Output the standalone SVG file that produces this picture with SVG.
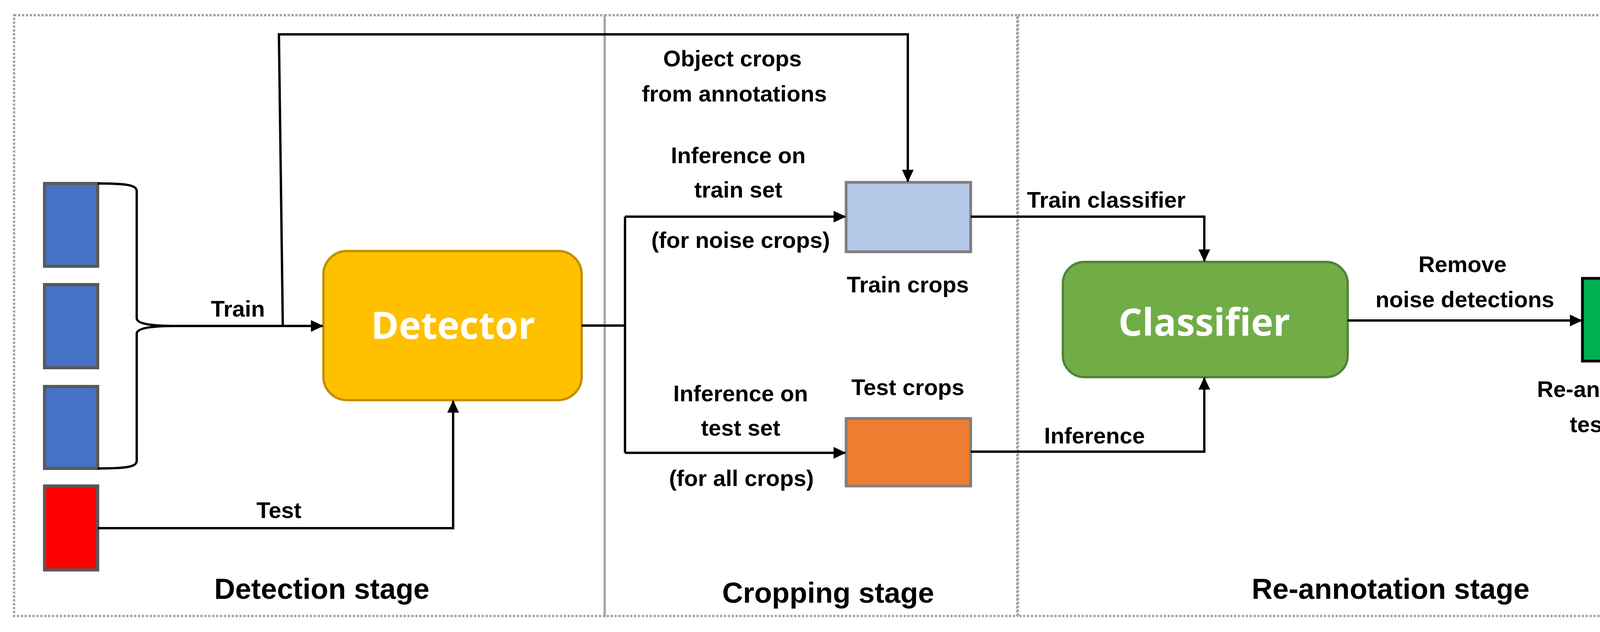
<svg xmlns="http://www.w3.org/2000/svg" width="4412" height="1619" viewBox="0 0 4412 1619">
<style>
.stage{fill:none;stroke:#a6a6a6;stroke-width:6;stroke-dasharray:6 4}
.ln{fill:none;stroke:#000;stroke-width:6}
.t{font-family:"Liberation Sans",Arial,sans-serif;font-weight:bold;font-size:58px;fill:#000;text-anchor:middle}
.st{font-size:74px}
.big{font-family:"Open Sans","Liberation Sans",sans-serif;font-weight:bold;font-size:96px;fill:#fff;text-anchor:middle}
.img{stroke:#595959;stroke-width:8}
.crop{stroke:#7f7f7f;stroke-width:7}
</style>
<defs>
<marker id="ar" markerWidth="10" markerHeight="10" refX="9" refY="5" orient="auto" markerUnits="userSpaceOnUse" viewBox="0 0 10 10" style="overflow:visible">
<path d="M0,0 L10,5 L0,10 Z" fill="#000" transform="scale(3.2) translate(-7,-5) translate(7,5) translate(-7,-5)"/>
</marker>
<marker id="a" markerWidth="32" markerHeight="30" refX="30" refY="15" orient="auto" markerUnits="userSpaceOnUse">
<path d="M0,0 L32,15 L0,30 Z" fill="#000"/>
</marker>
</defs>
<g id="stages">
<rect class="stage" x="36" y="39" width="1512" height="1539"/>
<rect class="stage" x="1548" y="39" width="1056" height="1539"/>
<rect class="stage" x="2606" y="39" width="1780" height="1539"/>
<text class="t st" x="824" y="1534">Detection stage</text>
<text class="t st" x="2120" y="1544">Cropping stage</text>
<text class="t st" x="3560" y="1534">Re-annotation stage</text>
</g>
<g id="train-images">
<rect class="img" x="114" y="470" width="136" height="212" fill="#4472C4"/>
<rect class="img" x="114" y="729" width="136" height="213" fill="#4472C4"/>
<rect class="img" x="114" y="990" width="136" height="210" fill="#4472C4"/>
</g>
<g id="test-image"><rect class="img" x="114" y="1245" width="136" height="215" fill="#FF0000"/></g>
<g id="detector">
<rect x="828" y="643" width="661" height="382" rx="60" fill="#FFC000" stroke="#BF9000" stroke-width="6"/>
<text class="big" x="1160" y="868">Detector</text>
</g>
<g id="train-crops">
<rect class="crop" x="2166" y="467" width="319" height="178" fill="#B4C7E7"/>
<text class="t" x="2324" y="749">Train crops</text>
</g>
<g id="test-crops">
<rect class="crop" x="2166" y="1072" width="319" height="173" fill="#ED7D31"/>
<text class="t" x="2324" y="1012">Test crops</text>
</g>
<g id="classifier">
<rect x="2721" y="671" width="729" height="295" rx="55" fill="#70AD47" stroke="#548235" stroke-width="6"/>
<text class="big" x="3083" y="860">Classifier</text>
</g>
<g id="reannotated">
<rect x="4051" y="713" width="144" height="212" fill="#00B050" stroke="#000" stroke-width="7"/>
<text class="t" x="4120" y="1017">Re-annotated</text>
<text class="t" x="4120" y="1107">test set</text>
</g>
<g id="connectors">
<path class="ln" d="M250,470 C330,470 350,475 350,490 L350,815 C350,830 390,835 449,835 C390,835 350,840 350,855 L350,1180 C350,1195 330,1200 250,1200"/>
<path class="ln" d="M449,835 L826,835" marker-end="url(#a)"/>
<path class="ln" d="M724,835 L714,88 L2324,88 L2324,465" marker-end="url(#a)"/>
<path class="ln" d="M250,1353 L1160,1353 L1160,1027" marker-end="url(#a)"/>
<path class="ln" d="M1489,834 L1600,834"/>
<path class="ln" d="M1600,555 L1600,1160"/>
<path class="ln" d="M1600,555 L2164,555" marker-end="url(#a)"/>
<path class="ln" d="M1600,1160 L2164,1160" marker-end="url(#a)"/>
<path class="ln" d="M2485,555 L3083,555 L3083,669" marker-end="url(#a)"/>
<path class="ln" d="M2485,1157 L3083,1157 L3083,968" marker-end="url(#a)"/>
<path class="ln" d="M3450,821 L4049,821" marker-end="url(#a)"/>
<text class="t" x="609" y="811">Train</text>
<text class="t" x="714" y="1327">Test</text>
<text class="t" x="1875" y="170">Object crops</text>
<text class="t" x="1880" y="260">from annotations</text>
<text class="t" x="1890" y="418">Inference on</text>
<text class="t" x="1890" y="506">train set</text>
<text class="t" x="1896" y="635">(for noise crops)</text>
<text class="t" x="1896" y="1028">Inference on</text>
<text class="t" x="1896" y="1116">test set</text>
<text class="t" x="1898" y="1245">(for all crops)</text>
<text class="t" x="2832" y="532">Train classifier</text>
<text class="t" x="2802" y="1136">Inference</text>
<text class="t" x="3744" y="697">Remove</text>
<text class="t" x="3750" y="787">noise detections</text>
</g>
</svg>
